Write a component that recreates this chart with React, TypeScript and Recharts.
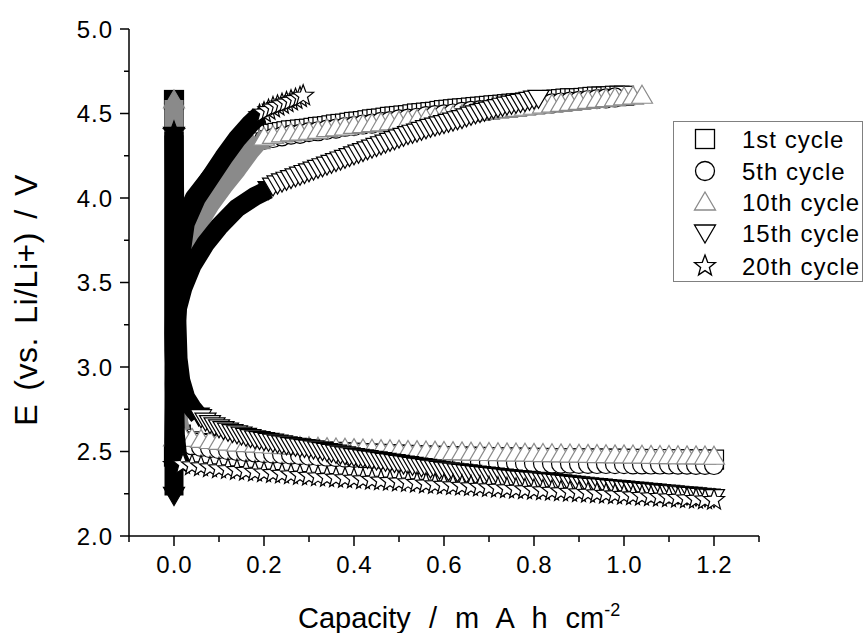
import React from 'react';
import { ScatterChart, Scatter, XAxis, YAxis } from 'recharts';

// ---------- axis ticks ----------
const X_TICKS = [-0.1, 0, 0.1, 0.2, 0.3, 0.4, 0.5, 0.6, 0.7, 0.8, 0.9, 1.0, 1.1, 1.2, 1.3];
const Y_TICKS = [2.0, 2.25, 2.5, 2.75, 3.0, 3.25, 3.5, 3.75, 4.0, 4.25, 4.5, 4.75, 5.0];

// ---------- capacity grids (mA h cm-2) ----------
const DIS_X = [
  0.02, 0.04, 0.06, 0.08, 0.10, 0.12, 0.14, 0.16, 0.18, 0.20,
  0.22, 0.24, 0.26, 0.28, 0.30, 0.32, 0.34, 0.36, 0.38, 0.40,
  0.42, 0.44, 0.46, 0.48, 0.50, 0.52, 0.54, 0.56, 0.58, 0.60,
  0.62, 0.64, 0.66, 0.68, 0.70, 0.72, 0.74, 0.76, 0.78, 0.80,
  0.82, 0.84, 0.86, 0.88, 0.90, 0.92, 0.94, 0.96, 0.98, 1.00,
  1.02, 1.04, 1.06, 1.08, 1.10, 1.12, 1.14, 1.16, 1.18, 1.20,
];
const DIS15_X = [
  0.06, 0.07, 0.08, 0.09, 0.10, 0.11, 0.12, 0.13, 0.14, 0.15,
  0.16, 0.17, 0.18, 0.19, 0.20, 0.21, 0.22, 0.23, 0.24, 0.25,
  0.26, 0.27, 0.28, 0.29, 0.30, 0.31, 0.32, 0.33, 0.34, 0.35,
  0.36, 0.37, 0.38, 0.39, 0.40, 0.41, 0.42, 0.43, 0.44, 0.45,
  0.46, 0.47, 0.48, 0.49, 0.50, 0.51, 0.52, 0.53, 0.54, 0.55,
  0.56, 0.57, 0.58, 0.59, 0.60, 0.61, 0.62, 0.63, 0.64, 0.65,
  0.66, 0.67, 0.68, 0.69, 0.70, 0.71, 0.72, 0.73, 0.74, 0.75,
  0.76, 0.77, 0.78, 0.79, 0.80, 0.81, 0.82, 0.83, 0.84, 0.85,
  0.86, 0.87, 0.88, 0.89, 0.90, 0.91, 0.92, 0.93, 0.94, 0.95,
  0.96, 0.97, 0.98, 0.99, 1.00, 1.01, 1.02, 1.03, 1.04, 1.05,
  1.06, 1.07, 1.08, 1.09, 1.10, 1.11, 1.12, 1.13, 1.14, 1.15,
  1.16, 1.17, 1.18, 1.19, 1.20,
];
const CH_X = [
  0.18, 0.20, 0.22, 0.24, 0.26, 0.28, 0.30, 0.32, 0.34, 0.36,
  0.38, 0.40, 0.42, 0.44, 0.46, 0.48, 0.50, 0.52, 0.54, 0.56,
  0.58, 0.60, 0.62, 0.64, 0.66, 0.68, 0.70, 0.72, 0.74, 0.76,
  0.78, 0.80, 0.82, 0.84, 0.86, 0.88, 0.90, 0.92, 0.94, 0.96,
  0.98, 1.00, 1.02, 1.04,
];
const CH1_X = [
  0.18, 0.19, 0.20, 0.21, 0.22, 0.23, 0.24, 0.25, 0.26, 0.27,
  0.28, 0.29, 0.30, 0.31, 0.32, 0.33, 0.34, 0.35, 0.36, 0.37,
  0.38, 0.39, 0.40, 0.41, 0.42, 0.43, 0.44, 0.45, 0.46, 0.47,
  0.48, 0.49, 0.50, 0.51, 0.52, 0.53, 0.54, 0.55, 0.56, 0.57,
  0.58, 0.59, 0.60, 0.61, 0.62, 0.63, 0.64, 0.65, 0.66, 0.67,
  0.68, 0.69, 0.70, 0.71, 0.72, 0.73, 0.74, 0.75, 0.76, 0.77,
  0.78, 0.79, 0.80, 0.81, 0.82, 0.83, 0.84, 0.85, 0.86, 0.87,
  0.88, 0.89, 0.90, 0.91, 0.92, 0.93, 0.94, 0.95, 0.96, 0.97,
  0.98, 0.99, 1.00,
];
const CH15_X = [
  0.22, 0.23, 0.24, 0.25, 0.26, 0.27, 0.28, 0.29, 0.30, 0.31,
  0.32, 0.33, 0.34, 0.35, 0.36, 0.37, 0.38, 0.39, 0.40, 0.41,
  0.42, 0.43, 0.44, 0.45, 0.46, 0.47, 0.48, 0.49, 0.50, 0.51,
  0.52, 0.53, 0.54, 0.55, 0.56, 0.57, 0.58, 0.59, 0.60, 0.61,
  0.62, 0.63, 0.64, 0.65, 0.66, 0.67, 0.68, 0.69, 0.70, 0.71,
  0.72, 0.73, 0.74, 0.75, 0.76, 0.77, 0.78, 0.79, 0.80, 0.81,
];

// ---------- discharge voltages ----------
const dis1V = [
  2.575, 2.56, 2.55, 2.545, 2.54, 2.535, 2.53, 2.525, 2.52, 2.518,
  2.515, 2.512, 2.51, 2.507, 2.505, 2.502, 2.5, 2.498, 2.495, 2.493,
  2.49, 2.488, 2.486, 2.484, 2.482, 2.48, 2.478, 2.476, 2.475, 2.473,
  2.472, 2.47, 2.469, 2.468, 2.467, 2.466, 2.465, 2.464, 2.463, 2.462,
  2.462, 2.461, 2.46, 2.46, 2.459, 2.459, 2.458, 2.458, 2.457, 2.457,
  2.456, 2.456, 2.455, 2.455, 2.455, 2.454, 2.454, 2.453, 2.453, 2.452,
];
const dis5V = [
  2.55, 2.537, 2.527, 2.52, 2.514, 2.508, 2.503, 2.498, 2.494, 2.49,
  2.487, 2.484, 2.481, 2.478, 2.475, 2.472, 2.469, 2.467, 2.464, 2.462,
  2.46, 2.457, 2.455, 2.453, 2.451, 2.449, 2.447, 2.445, 2.443, 2.442,
  2.44, 2.439, 2.437, 2.436, 2.435, 2.434, 2.433, 2.432, 2.431, 2.43,
  2.429, 2.429, 2.428, 2.428, 2.427, 2.427, 2.426, 2.426, 2.425, 2.425,
  2.424, 2.424, 2.423, 2.423, 2.423, 2.422, 2.422, 2.421, 2.421, 2.42,
];
const dis10V = [
  2.6, 2.578, 2.572, 2.565, 2.56, 2.555, 2.55, 2.547, 2.544, 2.54,
  2.537, 2.535, 2.532, 2.53, 2.528, 2.525, 2.523, 2.521, 2.519, 2.517,
  2.515, 2.513, 2.511, 2.51, 2.508, 2.506, 2.505, 2.503, 2.502, 2.5,
  2.499, 2.498, 2.496, 2.495, 2.494, 2.493, 2.492, 2.491, 2.49, 2.489,
  2.488, 2.487, 2.486, 2.485, 2.484, 2.483, 2.482, 2.481, 2.48, 2.48,
  2.479, 2.478, 2.477, 2.476, 2.476, 2.475, 2.474, 2.474, 2.473, 2.472,
];
const dis15V = [
  2.7, 2.68, 2.665, 2.652, 2.64, 2.63, 2.62, 2.612, 2.605, 2.597,
  2.59, 2.582, 2.575, 2.57, 2.565, 2.56, 2.555, 2.55, 2.545, 2.54,
  2.535, 2.531, 2.527, 2.523, 2.52, 2.515, 2.51, 2.505, 2.5, 2.495,
  2.49, 2.485, 2.48, 2.475, 2.47, 2.466, 2.462, 2.458, 2.454, 2.45,
  2.446, 2.442, 2.438, 2.434, 2.43, 2.426, 2.422, 2.418, 2.414, 2.41,
  2.406, 2.402, 2.398, 2.394, 2.39, 2.386, 2.383, 2.38, 2.376, 2.373,
  2.37, 2.367, 2.364, 2.361, 2.358, 2.355, 2.352, 2.349, 2.346, 2.343,
  2.34, 2.337, 2.335, 2.332, 2.33, 2.327, 2.325, 2.322, 2.32, 2.317,
  2.314, 2.311, 2.308, 2.305, 2.302, 2.3, 2.297, 2.294, 2.292, 2.29,
  2.287, 2.284, 2.282, 2.28, 2.277, 2.274, 2.272, 2.27, 2.267, 2.264,
  2.262, 2.26, 2.257, 2.254, 2.252, 2.25, 2.247, 2.244, 2.242, 2.24,
  2.237, 2.234, 2.232, 2.23, 2.227,
];
const dis20V = [
  2.425, 2.418, 2.412, 2.406, 2.4, 2.395, 2.39, 2.385, 2.38, 2.376,
  2.372, 2.368, 2.364, 2.36, 2.356, 2.352, 2.348, 2.345, 2.342, 2.339,
  2.335, 2.332, 2.328, 2.325, 2.322, 2.318, 2.314, 2.31, 2.306, 2.303,
  2.3, 2.297, 2.294, 2.291, 2.288, 2.285, 2.282, 2.279, 2.276, 2.273,
  2.27, 2.267, 2.264, 2.261, 2.258, 2.255, 2.252, 2.249, 2.246, 2.243,
  2.24, 2.237, 2.234, 2.231, 2.228, 2.225, 2.222, 2.219, 2.216, 2.213,
];

// ---------- charge voltages ----------
const ch1V = [
  4.36, 4.365, 4.37, 4.375, 4.38, 4.385, 4.39, 4.395, 4.4, 4.402,
  4.405, 4.408, 4.41, 4.415, 4.42, 4.422, 4.425, 4.43, 4.435, 4.438,
  4.44, 4.445, 4.45, 4.452, 4.455, 4.46, 4.465, 4.468, 4.47, 4.475,
  4.48, 4.482, 4.485, 4.488, 4.49, 4.495, 4.5, 4.502, 4.505, 4.508,
  4.51, 4.515, 4.52, 4.522, 4.525, 4.528, 4.53, 4.532, 4.535, 4.538,
  4.54, 4.542, 4.545, 4.548, 4.55, 4.552, 4.555, 4.558, 4.56, 4.562,
  4.565, 4.568, 4.57, 4.572, 4.575, 4.578, 4.58, 4.582, 4.585, 4.588,
  4.59, 4.59, 4.59, 4.592, 4.595, 4.598, 4.6, 4.6, 4.6, 4.602,
  4.605, 4.605, 4.605,
];
const ch5V = [
  4.33, 4.345, 4.355, 4.365, 4.375, 4.38, 4.39, 4.395, 4.405, 4.41,
  4.42, 4.425, 4.435, 4.44, 4.45, 4.455, 4.465, 4.47, 4.475, 4.485,
  4.49, 4.495, 4.5, 4.51, 4.515, 4.52, 4.525, 4.53, 4.535, 4.54,
  4.545, 4.55, 4.555, 4.56, 4.565, 4.57, 4.575, 4.58, 4.585, 4.59,
  4.595, null, null, null,
];
const ch10V = [
  null, 4.36, 4.37, 4.38, 4.385, 4.39, 4.395, 4.4, 4.41, 4.415,
  4.42, 4.43, 4.435, 4.44, 4.445, 4.45, 4.455, 4.46, 4.465, 4.47,
  4.475, 4.48, 4.487, 4.494, 4.5, 4.507, 4.513, 4.52, 4.525, 4.53,
  4.537, 4.543, 4.55, 4.555, 4.56, 4.566, 4.572, 4.578, 4.583, 4.588,
  4.593, 4.598, 4.603, 4.608,
];
const ch15V = [
  4.07, 4.083, 4.095, 4.105, 4.115, 4.125, 4.135, 4.145, 4.155, 4.165,
  4.175, 4.185, 4.195, 4.205, 4.215, 4.225, 4.235, 4.245, 4.255, 4.265,
  4.275, 4.285, 4.295, 4.305, 4.315, 4.325, 4.335, 4.345, 4.355, 4.365,
  4.375, 4.383, 4.39, 4.4, 4.41, 4.418, 4.425, 4.433, 4.44, 4.448,
  4.455, 4.463, 4.47, 4.48, 4.49, 4.498, 4.505, 4.513, 4.52, 4.528,
  4.535, 4.543, 4.55, 4.555, 4.56, 4.565, 4.57, 4.578, 4.585, 4.59,
];
const ch20Stars: [number, number][] = [
  [0.2, 4.505], [0.21, 4.52], [0.22, 4.535], [0.23, 4.545], [0.24, 4.555],
  [0.25, 4.565], [0.26, 4.575], [0.27, 4.585], [0.28, 4.595], [0.287, 4.605],
];

// ---------- densely sampled parts (near-vertical / crowded points) ----------
const dense1Dis: [number, number][] = [[0, 4.58], [0, 3.2], [0.005, 2.8], [0.01, 2.65], [0.015, 2.6]];
const dense1Ch: [number, number][] = [[0, 2.47], [0.002, 3.0], [0.005, 3.35], [0.01, 3.65], [0.02, 3.85], [0.045, 4.0], [0.08, 4.12], [0.11, 4.21], [0.14, 4.28], [0.17, 4.34]];
const dense5Dis: [number, number][] = [[0, 4.56], [0, 3.1], [0.005, 2.75], [0.01, 2.62], [0.015, 2.57]];
const dense5Ch: [number, number][] = [[0, 2.45], [0.002, 3.0], [0.005, 3.3], [0.01, 3.6], [0.02, 3.8], [0.045, 3.96], [0.08, 4.09], [0.11, 4.18], [0.14, 4.25], [0.17, 4.31]];
const dense10Dis: [number, number][] = [[0, 4.58], [0, 3.3], [0.005, 2.85], [0.01, 2.68], [0.015, 2.62]];
const dense10Ch: [number, number][] = [[0, 2.58], [0.003, 3.25], [0.01, 3.5], [0.025, 3.68], [0.05, 3.83], [0.08, 3.96], [0.11, 4.07], [0.14, 4.17], [0.17, 4.28], [0.19, 4.34]];
const dense15Dis: [number, number][] = [[0, 4.37], [0.003, 3.6], [0.006, 3.3], [0.009, 3.05], [0.015, 2.92], [0.026, 2.82], [0.04, 2.76], [0.055, 2.71]];
const dense15Ch: [number, number][] = [[0, 2.24], [0, 2.9], [0.003, 3.2], [0.008, 3.35], [0.02, 3.47], [0.04, 3.6], [0.07, 3.73], [0.1, 3.83], [0.14, 3.94], [0.18, 4.01], [0.21, 4.05]];
const dense20Dis: [number, number][] = [[0, 4.39], [0, 3.0], [0.003, 2.6], [0.008, 2.47], [0.015, 2.43]];
const dense20Ch: [number, number][] = [[0, 2.42], [0.002, 2.9], [0.006, 3.3], [0.012, 3.6], [0.025, 3.85], [0.05, 4.0], [0.08, 4.12], [0.11, 4.24], [0.14, 4.35], [0.17, 4.44], [0.19, 4.49]];

const LEGEND_LABELS = ['1st cycle', '5th cycle', '10th cycle', '15th cycle', '20th cycle'];

// ---------- helpers ----------
type Pt = { x: number; y: number };
const zip = (xs: number[], vs: (number | null)[]): Pt[] =>
  xs.map((x, i) => (vs[i] == null ? null : { x, y: vs[i] as number })).filter(Boolean) as Pt[];
const pairs = (a: [number, number][]): Pt[] => a.map(([x, y]) => ({ x, y }));

type Kind = 'square' | 'circle' | 'up' | 'down' | 'star';
const GRAY = '#8a8a8a';

const Marker = ({ kind, cx, cy, stroke, fill, sw = 1.2, s = 1 }: any) => {
  const common = { stroke, fill, strokeWidth: sw };
  switch (kind as Kind) {
    case 'square':
      return <rect x={cx - 9.5 * s} y={cy - 9.5 * s} width={19 * s} height={19 * s} {...common} />;
    case 'circle':
      return <circle cx={cx} cy={cy} r={9.5 * s} {...common} />;
    case 'up':
      return <polygon points={`${cx},${cy - 10 * s} ${cx + 10.5 * s},${cy + 8 * s} ${cx - 10.5 * s},${cy + 8 * s}`} {...common} />;
    case 'down':
      return <polygon points={`${cx - 10.5 * s},${cy - 8 * s} ${cx + 10.5 * s},${cy - 8 * s} ${cx},${cy + 10 * s}`} {...common} />;
    default: {
      const pts: string[] = [];
      for (let i = 0; i < 10; i++) {
        const a = (-90 + i * 36) * Math.PI / 180;
        const r = (i % 2 === 0 ? 11 : 4.6) * s;
        pts.push(`${cx + r * Math.cos(a)},${cy + r * Math.sin(a)}`);
      }
      return <polygon points={pts.join(' ')} {...common} />;
    }
  }
};

const CYCLES = [
  { kind: 'square', color: '#000', denseDis: pairs(dense1Dis), denseCh: pairs(dense1Ch), dis: zip(DIS_X, dis1V), ch: zip(CH1_X, ch1V) },
  { kind: 'circle', color: '#000', denseDis: pairs(dense5Dis), denseCh: pairs(dense5Ch), dis: zip(DIS_X, dis5V), ch: zip(CH_X, ch5V) },
  { kind: 'up', color: GRAY, denseDis: pairs(dense10Dis), denseCh: pairs(dense10Ch), dis: zip(DIS_X, dis10V), ch: zip(CH_X, ch10V) },
  { kind: 'down', color: '#000', denseDis: pairs(dense15Dis), denseCh: pairs(dense15Ch), dis: zip(DIS15_X, dis15V), ch: zip(CH15_X, ch15V) },
  { kind: 'star', color: '#000', denseDis: pairs(dense20Dis), denseCh: pairs(dense20Ch), dis: zip(DIS_X, dis20V), ch: pairs(ch20Stars) },
];

const FONT = '"Liberation Sans", Arial, sans-serif';

const XTick = (props: any) => {
  const { x, y, payload } = props;
  const v = payload.value as number;
  const major = Math.round(v * 10) % 2 === 0;
  return (
    <g>
      <line x1={x} x2={x} y1={y} y2={y + (major ? 10 : 6)} stroke="#000" strokeWidth={1.5} />
      {major && (
        <text x={x + 0.5} y={y + 37} textAnchor="middle" fontFamily={FONT} fontSize={24} letterSpacing={1} fill="#000">
          {v.toFixed(1)}
        </text>
      )}
    </g>
  );
};

const YTick = (props: any) => {
  const { x, y, payload } = props;
  const v = payload.value as number;
  const major = Math.round(v * 100) % 50 === 0;
  return (
    <g>
      <line x1={x - (major ? 9 : 5)} x2={x} y1={y} y2={y} stroke="#000" strokeWidth={1.5} />
      {major && (
        <text x={x - 16} y={y + 8.5} textAnchor="end" fontFamily={FONT} fontSize={24} letterSpacing={1} fill="#000">
          {v.toFixed(1)}
        </text>
      )}
    </g>
  );
};

const XLabel = () => (
  <text x={298} y={628} textAnchor="start" fontFamily={FONT} fontSize={29} wordSpacing={10} fill="#000">
    Capacity / m A h cm<tspan dy={-12} fontSize={18}>-2</tspan>
  </text>
);

const YLabel = () => {
  const cx = 37;
  const cy = 300;
  return (
    <text x={cx} y={cy} transform={`rotate(-90, ${cx}, ${cy})`} textAnchor="middle" fontFamily={FONT} fontSize={32} letterSpacing={0.5} wordSpacing={4} fill="#000">
      E (vs. Li/Li+) / V
    </text>
  );
};

const LegendBox = () => {
  const rows = [17, 49, 80, 111, 144];
  return (
    <div style={{ position: 'absolute', left: 673, top: 121, width: 190, height: 161, border: '1px solid #808080', boxSizing: 'border-box', background: '#fff' }}>
      <svg width={188} height={159}>
        {CYCLES.map((c, i) => (
          <g key={i}>
            <Marker kind={c.kind} cx={31} cy={rows[i]} stroke={c.color} fill="#fff" sw={1.3} />
            <text x={68} y={rows[i] + 8.5} fontFamily={FONT} fontSize={24} letterSpacing={1} fill="#000">{LEGEND_LABELS[i]}</text>
          </g>
        ))}
      </svg>
    </div>
  );
};

const isEnd = (p: any, d: Pt[]) => {
  const q = p.payload || {};
  const a = d[0];
  const b = d[d.length - 1];
  return (q.x === a.x && q.y === a.y) || (q.x === b.x && q.y === b.y);
};

export default function App() {
  const series: React.ReactNode[] = [];
  CYCLES.forEach((c, i) => {
    const band = { stroke: c.color, strokeWidth: 19, strokeLinejoin: 'round', fill: 'none' };
    series.push(
      <Scatter key={`dd${i}`} data={c.denseDis} isAnimationActive={false} line={band} lineType="joint"
        shape={(p: any) => (isEnd(p, c.denseDis) ? <Marker kind={c.kind} cx={p.cx} cy={p.cy} stroke={c.color} fill={c.color} /> : <g />)} />,
      <Scatter key={`dc${i}`} data={c.denseCh} isAnimationActive={false} line={band} lineType="joint"
        shape={(p: any) => (isEnd(p, c.denseCh) ? <Marker kind={c.kind} cx={p.cx} cy={p.cy} stroke={c.color} fill={c.color} /> : <g />)} />,
      <Scatter key={`sd${i}`} data={c.dis} isAnimationActive={false}
        shape={(p: any) => <Marker kind={c.kind} cx={p.cx} cy={p.cy} stroke={c.color} fill="#fff" />} />,
      <Scatter key={`sc${i}`} data={c.ch} isAnimationActive={false}
        shape={(p: any) => <Marker kind={c.kind} cx={p.cx} cy={p.cy} stroke={c.color} fill="#fff" />} />,
    );
  });

  return (
    <div style={{ position: 'absolute', left: 0, top: 0, width: 864, height: 633, background: '#fff' }}>
      <ScatterChart width={864} height={633} margin={{ top: 29, right: 105, bottom: 0, left: 0 }}>
        <XAxis type="number" dataKey="x" domain={[-0.1, 1.3]} ticks={X_TICKS} interval={0} tick={<XTick />} tickLine={false}
          tickSize={0} tickMargin={0} height={97} axisLine={{ stroke: '#000', strokeWidth: 1.5 }} label={{ content: <XLabel /> }} allowDataOverflow />
        <YAxis type="number" dataKey="y" domain={[2, 5]} ticks={Y_TICKS} interval={0} tick={<YTick />} tickLine={false}
          tickSize={0} tickMargin={0} width={129} axisLine={{ stroke: '#000', strokeWidth: 1.5 }} label={{ content: <YLabel /> }} allowDataOverflow />
        {series}
      </ScatterChart>
      <LegendBox />
    </div>
  );
}
